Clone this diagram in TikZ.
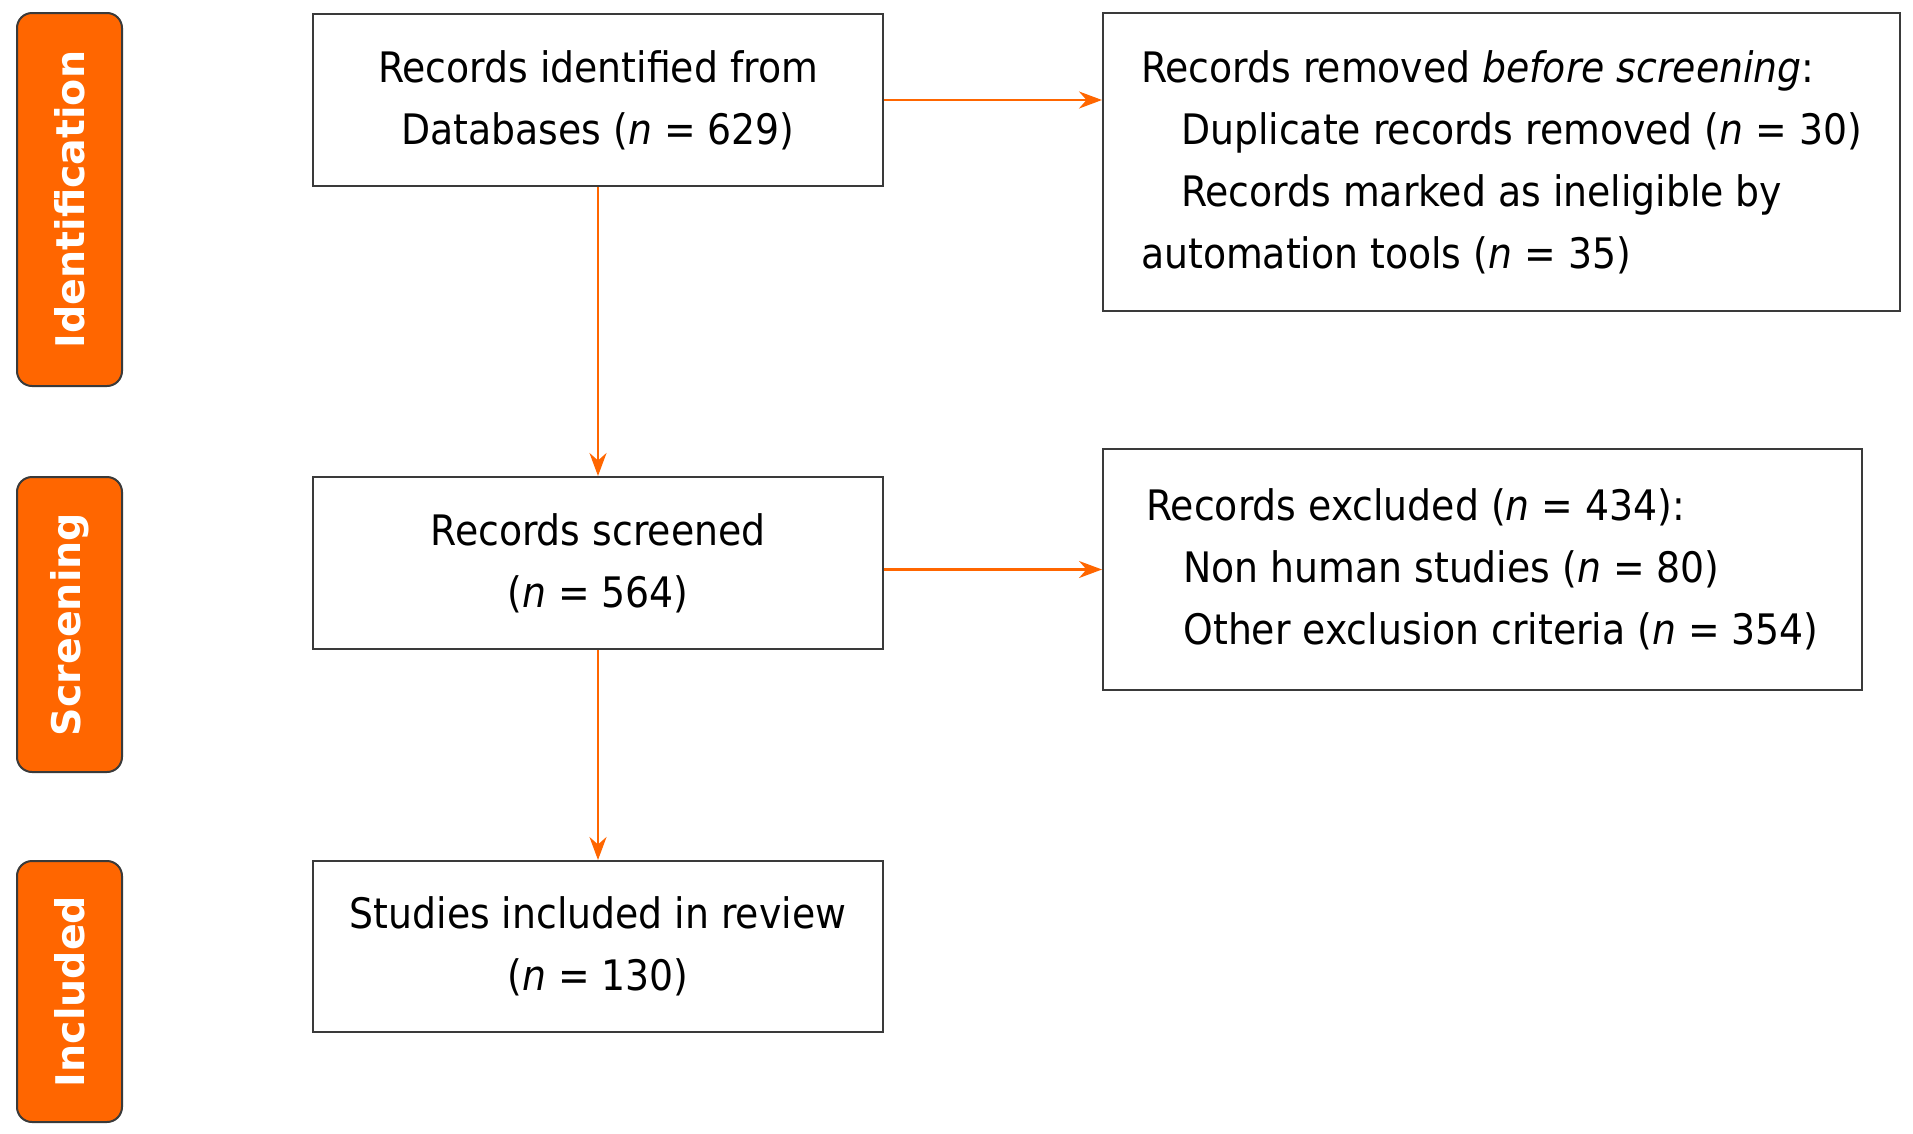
\documentclass[tikz,border=0pt]{standalone}
\usepackage{fontspec}
\setmainfont{DejaVu Sans Condensed}
\newfontfamily\phasefont{DejaVu Sans Bold}
\usetikzlibrary{arrows.meta, positioning}

\definecolor{prismaorange}{HTML}{FF6600}
\definecolor{boxline}{HTML}{3A3A3A}

\begin{document}
\begin{tikzpicture}[
        x=1pt, y=1pt,
        phase/.style={rectangle, rounded corners=15pt, draw=boxline, line width=2pt, fill=prismaorange, rotate=90, minimum height=105pt, inner sep=0pt, text=white, font=\phasefont\fontsize{39.5}{44}\selectfont},
        record/.style={rectangle, draw=boxline, line width=2pt, minimum width=570pt, minimum height=172pt, align=center, inner sep=0pt, font=\fontsize{42}{62}\selectfont},
        listbox/.style={rectangle, draw=boxline, line width=2pt, align=left, inner sep=0pt, font=\fontsize{42}{62}\selectfont},
        arrow/.style={-{Stealth[length=23pt, width=17pt]}, line width=2.4pt, draw=prismaorange}
    ]
        \useasboundingbox (0,0) rectangle (1913,-1133);

        % phase labels
        \node[phase, minimum width=373pt] (identification) at (69.5,-199.5) {Identification};
        \node[phase, minimum width=295pt] (screening) at (69.5,-624.5) {Screening};
        \node[phase, minimum width=261pt] (included) at (69.5,-991.5) {Included};

        % main column
        \node[record] (identified) at (598,-100) {Records identified from\\Databases (\textit{n} = 629)};
        \node[record] (screened) at (598,-563) {Records screened\\(\textit{n} = 564)};
        \node[record, minimum height=171pt] (review) at (598,-946.5) {Studies included in review\\(\textit{n} = 130)};

        % side boxes
        \node[listbox, minimum width=797pt, minimum height=298pt] (removed) at (1501.5,-162) {Records removed \textit{before screening}:\\\hspace*{40pt}Duplicate records removed (\textit{n} = 30)\\\hspace*{40pt}Records marked as ineligible by\\automation tools (\textit{n} = 35)};
        \node[listbox, minimum width=759pt, minimum height=241pt] (excluded) at (1482.5,-569.5) {Records excluded (\textit{n} = 434):\\\hspace*{37pt}Non human studies (\textit{n} = 80)\\\hspace*{37pt}Other exclusion criteria (\textit{n} = 354)};

        \draw[arrow] (identified.east) -- (identified.east -| removed.west);
        \draw[arrow] (identified) -- (screened);
        \draw[arrow] (excluded.west -| screened.east) -- (excluded.west);
        \draw[arrow] (screened) -- (review);
    \end{tikzpicture}
\end{document}
